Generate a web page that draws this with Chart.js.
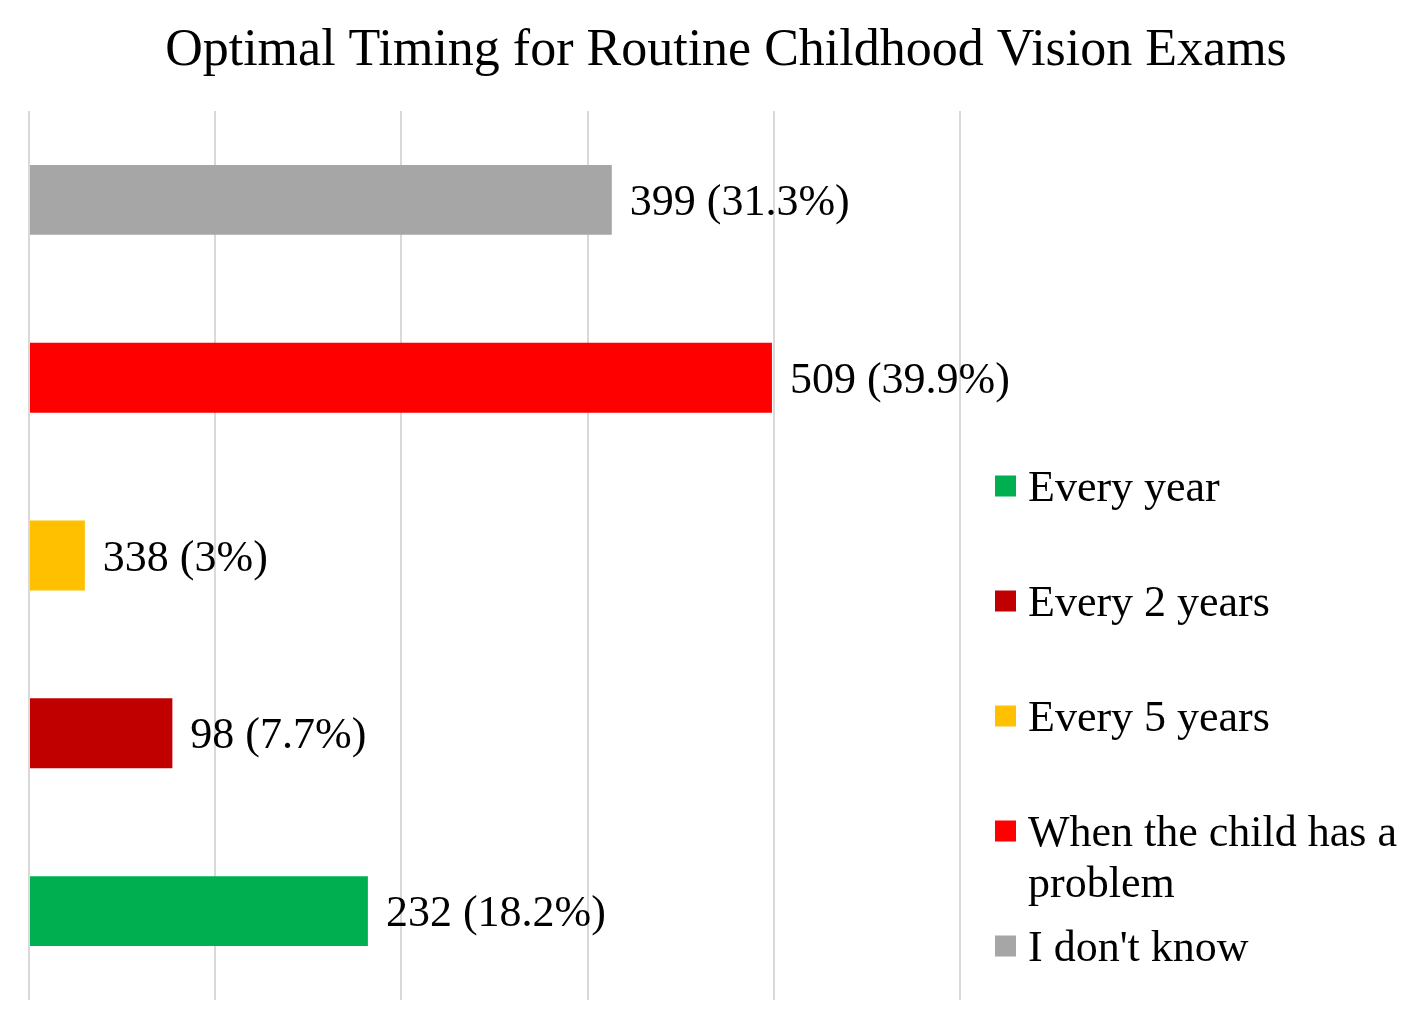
<!DOCTYPE html>
<html>
<head>
<meta charset="utf-8">
<script src="https://cdn.jsdelivr.net/npm/chart.js@4"></script>
<style>
  html, body { margin: 0; padding: 0; background: #fff; }
  #wrap { width: 1417px; height: 1018px; position: relative; }
</style>
</head>
<body>
<div id="wrap"><canvas id="c"></canvas></div>
<script>
const titleText = "Optimal Timing for Routine Childhood Vision Exams";
const categories = ["Every year", "Every 2 years", "Every 5 years", "When the child has a problem", "I don't know"];
const counts = [232, 98, 338, 509, 399];
const percents = [18.2, 7.7, 3, 39.9, 31.3];
const colors = ["#00b050", "#c00000", "#ffc000", "#ff0000", "#a6a6a6"];
const xTicks = [0, 10, 20, 30, 40, 50];

const FONT = "'Liberation Serif', 'Times New Roman', serif";

const titlePlugin = {
  id: 'customTitle',
  afterDraw(chart) {
    const ctx = chart.ctx;
    ctx.save();
    ctx.font = "52px " + FONT;
    ctx.fillStyle = "#000";
    ctx.textAlign = "center";
    ctx.textBaseline = "alphabetic";
    ctx.fillText(titleText, 726, 65);
    ctx.restore();
  }
};

const valueLabels = {
  id: 'valueLabels',
  afterDatasetsDraw(chart) {
    const ctx = chart.ctx;
    const meta = chart.getDatasetMeta(0);
    ctx.save();
    ctx.font = "44px " + FONT;
    ctx.fillStyle = "#000";
    ctx.textAlign = "left";
    ctx.textBaseline = "alphabetic";
    meta.data.forEach((bar, i) => {
      const txt = counts[i] + " (" + percents[i] + "%)";
      ctx.fillText(txt, bar.x + 18, bar.y + 15);
    });
    ctx.restore();
  }
};

const sideLegend = {
  id: 'sideLegend',
  afterDraw(chart) {
    const ctx = chart.ctx;
    ctx.save();
    ctx.font = "44px " + FONT;
    ctx.textAlign = "left";
    ctx.textBaseline = "alphabetic";
    const boxX = 995, box = 21, textX = 1028, maxW = 385;
    const startY = 486, step = 115, lineH = 51;
    categories.forEach((label, i) => {
      const cy = startY + i * step;
      ctx.fillStyle = colors[i];
      ctx.fillRect(boxX, cy - box / 2, box, box);
      ctx.fillStyle = "#000";
      const words = label.split(" ");
      const lines = [];
      let cur = "";
      words.forEach(w => {
        const test = cur ? cur + " " + w : w;
        if (ctx.measureText(test).width > maxW && cur) {
          lines.push(cur);
          cur = w;
        } else {
          cur = test;
        }
      });
      if (cur) lines.push(cur);
      lines.forEach((ln, k) => {
        ctx.fillText(ln, textX, cy + 14.5 + k * lineH);
      });
    });
    ctx.restore();
  }
};

new Chart(document.getElementById('c'), {
  type: 'bar',
  data: {
    labels: categories,
    datasets: [{
      data: percents,
      backgroundColor: colors,
      borderWidth: 0,
      categoryPercentage: 1.0,
      barPercentage: 0.393
    }]
  },
  options: {
    indexAxis: 'y',
    responsive: true,
    maintainAspectRatio: false,
    animation: false,
    devicePixelRatio: 1,
    layout: { padding: { left: 29, right: 457, top: 111, bottom: 18 } },
    plugins: {
      legend: { display: false },
      title: { display: false },
      tooltip: { enabled: false }
    },
    scales: {
      x: {
        min: xTicks[0],
        max: xTicks[xTicks.length - 1],
        afterBuildTicks(axis) { axis.ticks = xTicks.map(v => ({ value: v })); },
        ticks: { display: false },
        grid: { color: "#d9d9d9", lineWidth: 2, drawTicks: false },
        border: { display: false }
      },
      y: {
        reverse: true,
        display: false,
        grid: { display: false }
      }
    }
  },
  plugins: [titlePlugin, valueLabels, sideLegend]
});
</script>
</body>
</html>
